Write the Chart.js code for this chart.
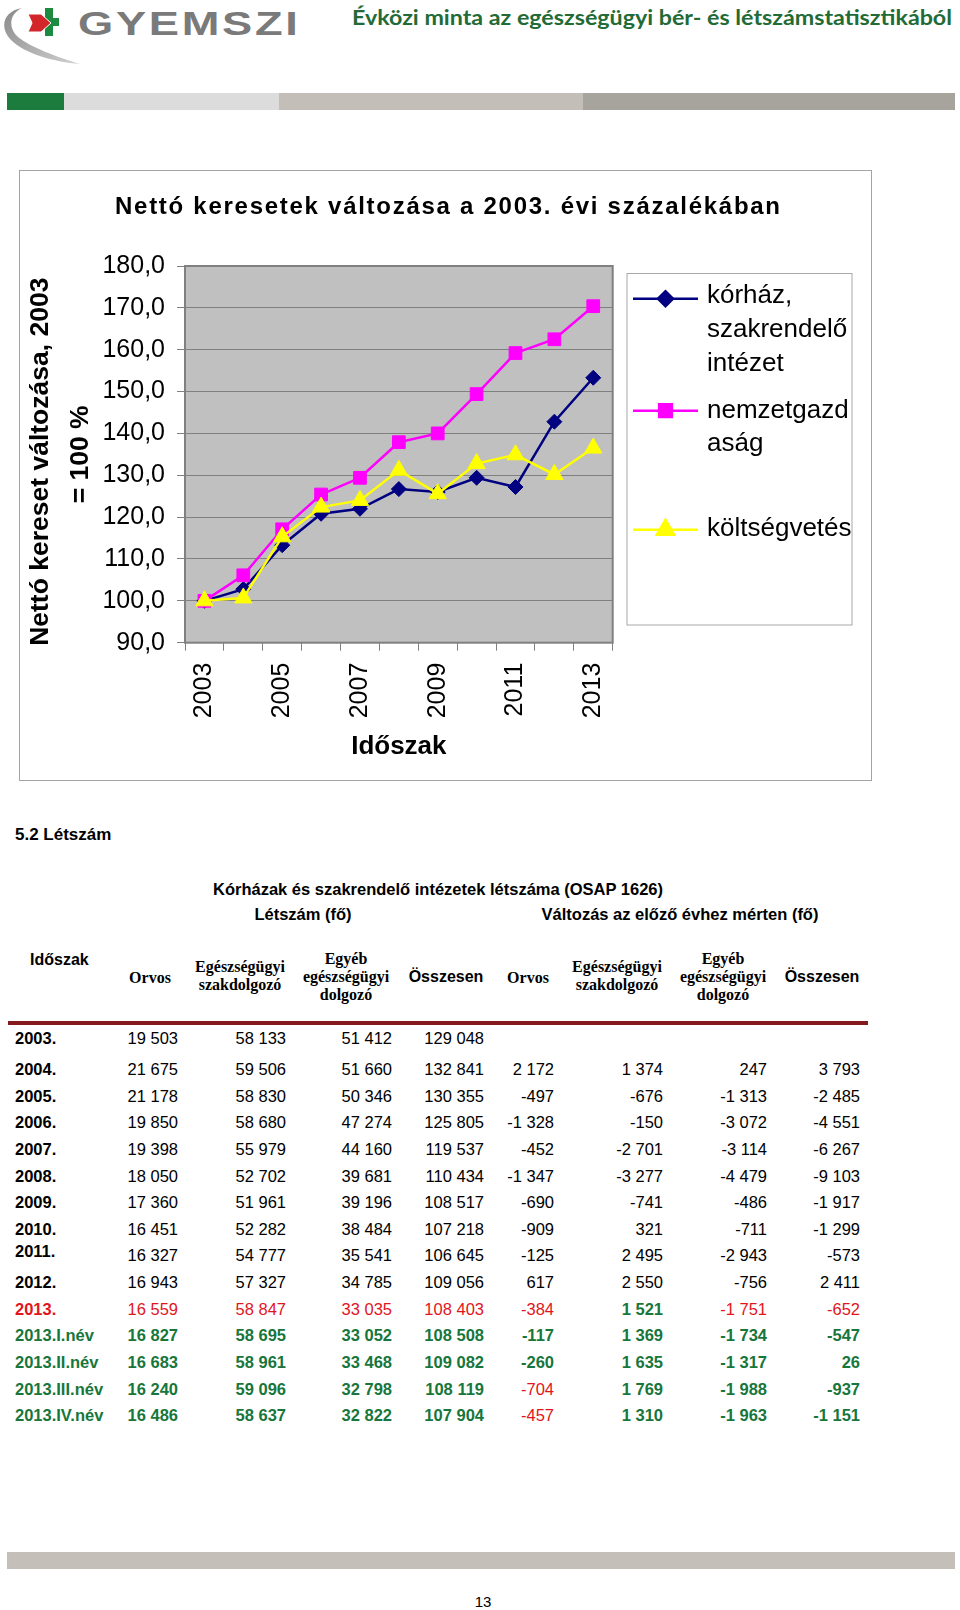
<!DOCTYPE html>
<html lang="hu">
<head>
<meta charset="utf-8">
<title>Évközi minta az egészségügyi bér- és létszámstatisztikából</title>
<script src="https://cdn.jsdelivr.net/npm/chart.js@4.4.1/dist/chart.umd.min.js"></script>
<style>
  body { margin: 0; background: #fff; font-family: "Liberation Sans", Arial, sans-serif; color: #000; }
  #page { position: relative; width: 960px; height: 1610px; overflow: hidden; }
  .abs { position: absolute; white-space: nowrap; }
  .bar { position: absolute; }
  .hdr { position: absolute; text-align: center; transform: translateX(-50%); font-weight: bold; line-height: 18px; white-space: nowrap; }
  .serif { font-family: "Liberation Serif", "Times New Roman", serif; font-size: 16px; }
  .sans { font-size: 16px; }
  .cell { position: absolute; white-space: nowrap; font-size: 16.5px; line-height: 20px; }
</style>
</head>
<body>
<div id="page">
  <!-- logo -->
  <svg class="abs" style="left:0;top:0" width="82" height="68" viewBox="0 0 82 68">
    <defs>
      <linearGradient id="sw" x1="0" y1="0" x2="1" y2="1">
        <stop offset="0" stop-color="#8a8a8a"/>
        <stop offset="1" stop-color="#cfcfcf"/>
      </linearGradient>
    </defs>
    <path d="M22,8 C3,11 -1,28 11,40 C25,54 55,62 80,64 C57,57 30,47 18,37 C8,28 9,14 22,8 Z" fill="url(#sw)"/>
    <path d="M45,8 h8 v10 h6 v8 h-6 v10 h-8 v-10 h-5 v-8 h5 z" fill="#1c8a3f"/>
    <path d="M28,14 h13 l10,9 l-10,9 h-13 l4,-9 z" fill="#d3262b" stroke="#fff" stroke-width="1"/>
  </svg>
  <div class="abs" id="logoText" style="left:78px;top:8px;font-size:33px;line-height:32px;font-weight:bold;color:#7a7a7a;letter-spacing:2px;transform:scaleX(1.37);transform-origin:left center;">GYEMSZI</div>
  <div class="abs" id="docTitle" style="left:352px;top:6px;font-family:Lato,'Liberation Sans',sans-serif;font-size:20px;line-height:22px;font-weight:bold;color:#236b36;transform-origin:left center;">Évközi minta az egészségügyi bér- és létszámstatisztikából</div>

  <!-- colour stripe -->
  <div class="bar" style="left:7px;top:93px;width:57px;height:17px;background:#1b7c3d"></div>
  <div class="bar" style="left:64px;top:93px;width:215px;height:17px;background:#dcdcdc"></div>
  <div class="bar" style="left:279px;top:93px;width:304px;height:17px;background:#c3beb7"></div>
  <div class="bar" style="left:583px;top:93px;width:372px;height:17px;background:#a7a39d"></div>

  <!-- chart frame -->
  <div class="abs" style="left:19px;top:170px;width:851px;height:609px;border:1px solid #a4a4a4;">
    <canvas id="netChart" width="851" height="609" style="width:851px;height:609px;display:block"></canvas>
  </div>

  <div class="abs" style="left:15px;top:825px;font-size:17px;line-height:20px;font-weight:bold;">5.2 Létszám</div>
  <div class="hdr sans" style="left:438px;top:880px;font-size:16.5px;">Kórházak és szakrendelő intézetek létszáma (OSAP 1626)</div>
  <div class="hdr sans" style="left:303px;top:905px;font-size:16.5px;">Létszám (fő)</div>
  <div class="hdr sans" style="left:680px;top:905px;font-size:16.5px;">Változás az előző évhez mérten (fő)</div>

  <div class="abs sans" style="left:30px;top:951px;font-weight:bold;line-height:18px;">Időszak</div>
  <div class="hdr serif" style="left:150px;top:969px;">Orvos</div>
  <div class="hdr serif" style="left:240px;top:958px;">Egészségügyi<br>szakdolgozó</div>
  <div class="hdr serif" style="left:346px;top:950px;">Egyéb<br>egészségügyi<br>dolgozó</div>
  <div class="hdr sans" style="left:446px;top:968px;">Összesen</div>
  <div class="hdr serif" style="left:528px;top:969px;">Orvos</div>
  <div class="hdr serif" style="left:617px;top:958px;">Egészségügyi<br>szakdolgozó</div>
  <div class="hdr serif" style="left:723px;top:950px;">Egyéb<br>egészségügyi<br>dolgozó</div>
  <div class="hdr sans" style="left:822px;top:968px;">Összesen</div>

  <div class="bar" style="left:8px;top:1021px;width:860px;height:4px;background:#841a1c"></div>
  <div id="rows"></div>

  <div class="bar" style="left:7px;top:1552px;width:948px;height:17px;background:#c4bfb8"></div>
  <div class="hdr" style="left:483px;top:1593px;font-size:15px;font-weight:normal;">13</div>
</div>

<script>
// --- chart data (2003 = 100) ---
const years = ['2003', '2004', '2005', '2006', '2007', '2008', '2009', '2010', '2011', '2012', '2013'];
const korhaz = [100.0, 102.8, 113.3, 120.8, 122.0, 126.7, 126.0, 129.4, 127.2, 142.8, 153.3];
const nemzetgazdasag = [100.0, 106.1, 117.1, 125.4, 129.4, 137.9, 140.0, 149.4, 159.2, 162.5, 170.4];
const koltsegvetes = [100.0, 100.7, 115.3, 122.4, 124.0, 131.2, 125.6, 132.8, 134.9, 130.2, 136.5];
const yMin = 90, yMax = 180, yStep = 10;

const chartTitle = 'Nettó keresetek változása a 2003. évi százalékában';
// the two trailing spaces push the first line down a little, as in the original
const yTitle = ['Nettó kereset változása, 2003  ', '= 100 %'];
const xTitle = 'Időszak';
const legendLines = [['kórház,', 'szakrendelő', 'intézet'], ['nemzetgazd', 'aság'], ['költségvetés']];

// --- table data ---
const periods = ['2003.', '2004.', '2005.', '2006.', '2007.', '2008.', '2009.', '2010.', '2011.', '2012.', '2013.',
  '2013.I.név', '2013.II.név', '2013.III.név', '2013.IV.név'];
const orvos = [19503, 21675, 21178, 19850, 19398, 18050, 17360, 16451, 16327, 16943, 16559, 16827, 16683, 16240, 16486];
const szakdolgozo = [58133, 59506, 58830, 58680, 55979, 52702, 51961, 52282, 54777, 57327, 58847, 58695, 58961, 59096, 58637];
const egyeb = [51412, 51660, 50346, 47274, 44160, 39681, 39196, 38484, 35541, 34785, 33035, 33052, 33468, 32798, 32822];
const osszesen = [129048, 132841, 130355, 125805, 119537, 110434, 108517, 107218, 106645, 109056, 108403, 108508, 109082, 108119, 107904];
const valtOrvos = [null, 2172, -497, -1328, -452, -1347, -690, -909, -125, 617, -384, -117, -260, -704, -457];
const valtSzak = [null, 1374, -676, -150, -2701, -3277, -741, 321, 2495, 2550, 1521, 1369, 1635, 1769, 1310];
const valtEgyeb = [null, 247, -1313, -3072, -3114, -4479, -486, -711, -2943, -756, -1751, -1734, -1317, -1988, -1963];
const valtOssz = [null, 3793, -2485, -4551, -6267, -9103, -1917, -1299, -573, 2411, -652, -547, 26, -937, -1151];

const RED = '#e2141c';
const GREEN = '#17763b';
const FONT = '"Liberation Sans", Arial, sans-serif';

function fmt(n) {
  if (n === null) return '';
  const s = String(Math.abs(n)).replace(/\B(?=(\d{3})+(?!\d))/g, ' ');
  return (n < 0 ? '-' : '') + s;
}

// table rows
const colRight = [178, 286, 392, 484, 554, 663, 767, 860];
const cols = [orvos, szakdolgozo, egyeb, osszesen, valtOrvos, valtSzak, valtEgyeb, valtOssz];
const rowsEl = document.getElementById('rows');
periods.forEach((p, i) => {
  const cy = i === 0 ? 1038.3 : 1069 + (i - 1) * 26.63;
  let color = '#000', bold = false;
  if (p === '2013.') color = RED;
  if (i > 10) { color = GREEN; bold = true; }

  const lab = document.createElement('div');
  lab.className = 'cell';
  lab.textContent = p;
  lab.style.left = '15px';
  lab.style.top = (cy - 10 - (p === '2011.' ? 4 : 0)) + 'px';
  lab.style.fontWeight = 'bold';
  lab.style.color = color;
  rowsEl.appendChild(lab);

  cols.forEach((arr, c) => {
    const el = document.createElement('div');
    el.className = 'cell';
    el.textContent = fmt(arr[i]);
    el.style.right = (960 - colRight[c]) + 'px';
    el.style.top = (cy - 10) + 'px';
    let cc = color, bb = bold;
    if (p === '2013.' && c === 5) { cc = GREEN; bb = true; }
    if ((p === '2013.III.név' || p === '2013.IV.név') && c === 4) { cc = RED; bb = false; }
    el.style.color = cc;
    el.style.fontWeight = bb ? 'bold' : 'normal';
    rowsEl.appendChild(el);
  });
});

// stretch the header title to its width in the original
const dt = document.getElementById('docTitle');
dt.style.transform = 'scaleX(' + (600 / dt.getBoundingClientRect().width) + ')';

// --- plugins ---
const plotFrame = {
  id: 'plotFrame',
  beforeDraw(chart) {
    const { ctx, chartArea: a } = chart;
    ctx.save();
    ctx.fillStyle = '#c0c0c0';
    ctx.fillRect(a.left, a.top, a.width, a.height);
    ctx.restore();
  },
  beforeDatasetsDraw(chart) {
    const { ctx, chartArea: a } = chart;
    ctx.save();
    ctx.strokeStyle = '#808080';
    ctx.lineWidth = 2;
    ctx.strokeRect(a.left, a.top, a.width, a.height);
    ctx.restore();
  }
};

const titleAndLegend = {
  id: 'titleAndLegend',
  afterDraw(chart) {
    const ctx = chart.ctx;
    ctx.save();
    // title, spread out like the original
    ctx.font = 'bold 24px ' + FONT;
    ctx.fillStyle = '#000';
    ctx.textAlign = 'left';
    ctx.textBaseline = 'alphabetic';
    const w = ctx.measureText(chartTitle).width;
    ctx.letterSpacing = ((665 - w) / (chartTitle.length - 1)) + 'px';
    ctx.fillText(chartTitle, 95, 43);
    ctx.letterSpacing = '0px';

    // legend box
    ctx.fillStyle = '#fff';
    ctx.fillRect(607, 102.5, 225, 351.5);
    ctx.strokeStyle = '#a8a8a8';
    ctx.lineWidth = 1;
    ctx.strokeRect(607, 102.5, 225, 351.5);

    const lineY = [127.7, 239.7, 358.8];
    const textY = [[125, 159, 193], [240, 273], [358]];
    ctx.font = '26px ' + FONT;
    ctx.textBaseline = 'middle';
    chart.data.datasets.forEach((ds, i) => {
      ctx.strokeStyle = ds.borderColor;
      ctx.lineWidth = 2.5;
      ctx.beginPath();
      ctx.moveTo(613, lineY[i]);
      ctx.lineTo(678, lineY[i]);
      ctx.stroke();
      ctx.fillStyle = ds.pointBackgroundColor;
      ctx.strokeStyle = ds.pointBorderColor;
      Chart.helpers.drawPoint(ctx, { pointStyle: ds.pointStyle, radius: ds.pointRadius, borderWidth: 1, rotation: 0 }, 645.5, lineY[i]);
      ctx.fillStyle = '#000';
      legendLines[i].forEach((t, k) => ctx.fillText(t, 687, textY[i][k]));
    });
    ctx.restore();
  }
};

function series(label, data, color, style, radius, order) {
  return {
    label, data, order,
    borderColor: color,
    backgroundColor: color,
    pointBackgroundColor: color,
    pointBorderColor: color,
    borderWidth: 2.5,
    pointStyle: style,
    pointRadius: radius,
    pointHoverRadius: radius,
    pointBorderWidth: 1,
    tension: 0
  };
}

new Chart(document.getElementById('netChart'), {
  type: 'line',
  data: {
    labels: years,
    datasets: [
      series('kórház, szakrendelő intézet', korhaz, '#000080', 'rectRot', 7.5, 2),
      series('nemzetgazdaság', nemzetgazdasag, '#ff00ff', 'rect', 9, 1),
      series('költségvetés', koltsegvetes, '#ffff00', 'triangle', 10, 0)
    ]
  },
  options: {
    responsive: false,
    animation: false,
    devicePixelRatio: 1,
    layout: { padding: { top: 95, right: 258.3, left: 0, bottom: 0 } },
    plugins: { legend: { display: false }, title: { display: false }, tooltip: { enabled: false } },
    scales: {
      x: {
        type: 'category',
        offset: true,
        afterFit: (s) => { s.height = 137.3; },
        border: { display: false },
        grid: { offset: true, drawOnChartArea: false, color: '#808080', tickLength: 8, tickColor: '#808080' },
        ticks: {
          autoSkip: false, minRotation: 90, maxRotation: 90, padding: 12,
          color: '#000', font: { size: 25, family: FONT },
          callback: function (v, i) { return i % 2 === 0 ? this.getLabelForValue(v) : ''; }
        },
        title: { display: true, text: xTitle, color: '#000', font: { size: 26, weight: 'bold', family: FONT }, padding: { top: 0, bottom: 17.7 } }
      },
      y: {
        min: yMin, max: yMax,
        afterFit: (s) => { s.width = 165; },
        border: { display: false },
        grid: { color: '#808080', tickLength: 8, tickColor: '#808080', lineWidth: 1 },
        ticks: {
          stepSize: yStep, padding: 12, color: '#000', font: { size: 25, family: FONT },
          callback: (v) => v.toFixed(1).replace('.', ',')
        },
        title: { display: true, text: yTitle, color: '#000', font: { size: 26.5, weight: 'bold', family: FONT, lineHeight: 1.48 }, padding: { top: 1.5, bottom: 0 } }
      }
    }
  },
  plugins: [plotFrame, titleAndLegend]
});
</script>
</body>
</html>
